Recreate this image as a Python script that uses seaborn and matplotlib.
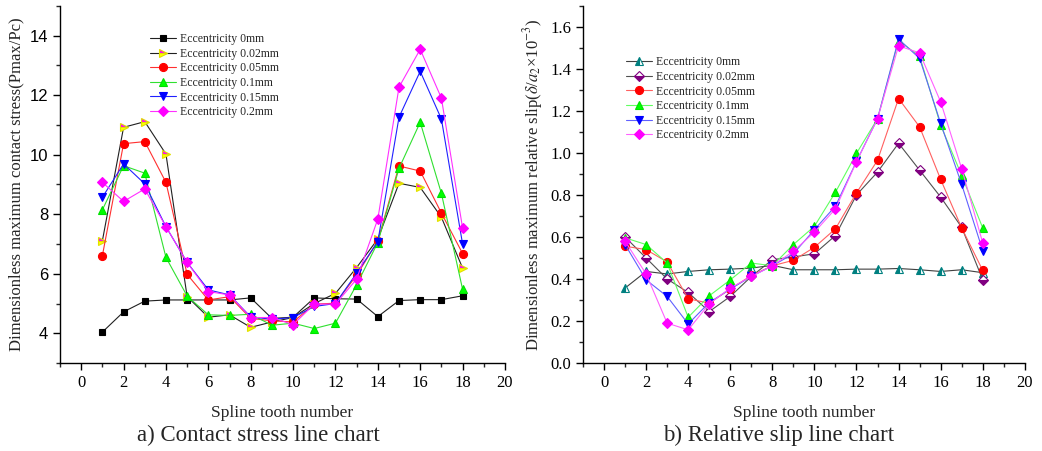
import numpy as np
import pandas as pd
import seaborn as sns
import matplotlib.pyplot as plt
import matplotlib.ticker as mtick

teeth = list(range(1, 19))
labels = ['Eccentricity 0mm', 'Eccentricity 0.02mm', 'Eccentricity 0.05mm',
          'Eccentricity 0.1mm', 'Eccentricity 0.15mm', 'Eccentricity 0.2mm']

# contact stress (Pmax/Pc)
stress_0 = [4.04, 4.72, 5.08, 5.12, 5.12, 5.12, 5.12, 5.19, 4.50, 4.54, 5.19, 5.16, 5.15, 4.56, 5.10, 5.13, 5.13, 5.26]
stress_002 = [7.11, 10.92, 11.11, 10.02, 5.23, 4.54, 4.62, 4.20, 4.38, 4.53, 5.00, 5.34, 6.21, 7.17, 9.04, 8.90, 7.90, 6.19]
stress_005 = [6.61, 10.37, 10.44, 9.07, 5.98, 5.12, 5.23, 4.50, 4.42, 4.38, 4.98, 5.01, 5.95, 7.10, 9.62, 9.45, 8.04, 6.68]
stress_01 = [8.15, 9.63, 9.38, 6.55, 5.25, 4.62, 4.60, 4.64, 4.27, 4.34, 4.16, 4.34, 5.63, 7.05, 9.54, 11.09, 8.70, 5.48]
stress_015 = [8.57, 9.69, 9.02, 7.58, 6.38, 5.46, 5.29, 4.55, 4.47, 4.53, 4.90, 5.00, 6.02, 7.08, 11.26, 12.80, 11.20, 7.00]
stress_02 = [9.07, 8.43, 8.85, 7.58, 6.38, 5.40, 5.29, 4.53, 4.53, 4.29, 4.98, 4.98, 5.82, 7.84, 12.27, 13.54, 11.90, 7.54]

# relative slip (delta/a2 x 10^-3)
slip_0 = [0.357, 0.436, 0.424, 0.436, 0.444, 0.447, 0.452, 0.465, 0.444, 0.444, 0.444, 0.447, 0.447, 0.450, 0.444, 0.436, 0.444, 0.430]
slip_002 = [0.600, 0.500, 0.400, 0.336, 0.245, 0.317, 0.412, 0.492, 0.505, 0.520, 0.607, 0.800, 0.909, 1.046, 0.918, 0.790, 0.646, 0.396]
slip_005 = [0.556, 0.540, 0.481, 0.306, 0.285, 0.352, 0.417, 0.463, 0.489, 0.551, 0.639, 0.810, 0.965, 1.259, 1.124, 0.874, 0.643, 0.441]
slip_01 = [0.596, 0.564, 0.476, 0.218, 0.320, 0.396, 0.476, 0.463, 0.564, 0.651, 0.813, 0.998, 1.163, 1.535, 1.460, 1.132, 0.893, 0.643]
slip_015 = [0.564, 0.396, 0.317, 0.186, 0.288, 0.352, 0.412, 0.463, 0.520, 0.635, 0.747, 0.960, 1.163, 1.542, 1.450, 1.141, 0.850, 0.535]
slip_02 = [0.580, 0.424, 0.190, 0.158, 0.282, 0.357, 0.412, 0.463, 0.532, 0.623, 0.734, 0.958, 1.163, 1.510, 1.476, 1.243, 0.925, 0.572]

stress_df = pd.DataFrame({'tooth': teeth * 6,
                          'value': stress_0 + stress_002 + stress_005 + stress_01 + stress_015 + stress_02,
                          'case': np.repeat(labels, 18)})
slip_df = pd.DataFrame({'tooth': teeth * 6,
                        'value': slip_0 + slip_002 + slip_005 + slip_01 + slip_015 + slip_02,
                        'case': np.repeat(labels, 18)})

sns.set_style('ticks')
plt.rcParams['font.family'] = ['Liberation Serif', 'DejaVu Serif']
plt.rcParams['mathtext.fontset'] = 'stix'

# line color, marker, size, face, alt face, edge, fillstyle
style_a = [
    ('#202020', 's', 5.0, 'black', 'black', 'black', 'full'),
    ('#202020', '>', 6.0, '#ff00ff', '#ffff00', '#e0e000', 'top'),
    ('#ff3030', 'o', 5.8, '#ff0000', '#ff0000', '#ff0000', 'full'),
    ('#30e030', '^', 6.0, '#00ff00', '#00ff00', '#00e000', 'full'),
    ('#2020ff', 'v', 6.0, '#0000ff', '#0000ff', '#0000ff', 'full'),
    ('#ff30ff', 'D', 5.0, '#ff00ff', '#ff00ff', '#ff00ff', 'full'),
]
style_b = [
    ('#404040', '^', 6.0, '#008080', 'white', '#008080', 'left'),
    ('#505050', 'D', 5.0, '#800080', 'white', '#800080', 'bottom'),
    ('#ff6060', 'o', 5.8, '#ff0000', '#ff0000', '#ff0000', 'full'),
    ('#60ff60', '^', 6.0, '#00ff00', '#00ff00', '#00e000', 'full'),
    ('#6060ff', 'v', 6.0, '#0000ff', '#0000ff', '#0000ff', 'full'),
    ('#ff60ff', 'D', 5.0, '#ff00ff', '#ff00ff', '#ff00ff', 'full'),
]

fig = plt.figure(figsize=(10.42, 4.51), dpi=100)
ax1 = fig.add_axes([0.0576, 0.195, 0.427, 0.792])
ax2 = fig.add_axes([0.5595, 0.195, 0.424, 0.792])

for ax, df, styles in [(ax1, stress_df, style_a), (ax2, slip_df, style_b)]:
    for lab, (lc, mk, ms, fc, fca, ec, fs) in zip(labels, styles):
        sns.lineplot(data=df[df['case'] == lab], x='tooth', y='value', ax=ax,
                     color=lc, lw=0.8, marker=mk, markersize=ms,
                     markerfacecolor=fc, markerfacecoloralt=fca, markeredgecolor=ec,
                     markeredgewidth=0.8, fillstyle=fs, label=lab)
    ax.set_xlim(-1, 20)
    ax.xaxis.set_major_locator(mtick.MultipleLocator(2))
    ax.xaxis.set_minor_locator(mtick.MultipleLocator(1))
    ax.tick_params(which='major', length=5, width=1, labelsize=12, colors='black')
    ax.tick_params(which='minor', length=3, width=1)
    for sp in ['left', 'bottom']:
        ax.spines[sp].set_linewidth(1)
        ax.spines[sp].set_color('black')
    sns.despine(ax=ax)
    ax.set_xlabel('Spline tooth number', fontsize=12.5, labelpad=10)

ax1.set_ylim(3, 15)
ax1.yaxis.set_major_locator(mtick.MultipleLocator(2))
ax1.yaxis.set_minor_locator(mtick.MultipleLocator(1))
for t in ax1.get_yticklabels():
    t.set_family('Liberation Sans')
ax1.set_ylabel('Dimensionless maximum contact stress(Pmax/Pc)', fontsize=12, labelpad=4)

ax2.set_ylim(0, 1.7)
ax2.yaxis.set_major_locator(mtick.MultipleLocator(0.2))
ax2.yaxis.set_minor_locator(mtick.MultipleLocator(0.1))
ax2.yaxis.set_major_formatter(mtick.FormatStrFormatter('%.1f'))
ax2.set_ylabel(r'Dimensionless maximum relative slip($\delta$/$a_2$×10$^{-3}$)', fontsize=12, labelpad=4)

ax1.legend(loc='upper left', bbox_to_anchor=(0.19, 0.94), frameon=False, fontsize=8.5,
           handlelength=2.2, handletextpad=0.3, labelspacing=0.22, borderpad=0)
ax2.legend(loc='upper left', bbox_to_anchor=(0.085, 0.875), frameon=False, fontsize=8.5,
           handlelength=2.2, handletextpad=0.3, labelspacing=0.22, borderpad=0)

fig.text(0.248, 0.022, 'a) Contact stress line chart', fontsize=16.5, ha='center')
fig.text(0.747, 0.022, 'b) Relative slip line chart', fontsize=16.5, ha='center')

plt.savefig('out.png', dpi=100)
